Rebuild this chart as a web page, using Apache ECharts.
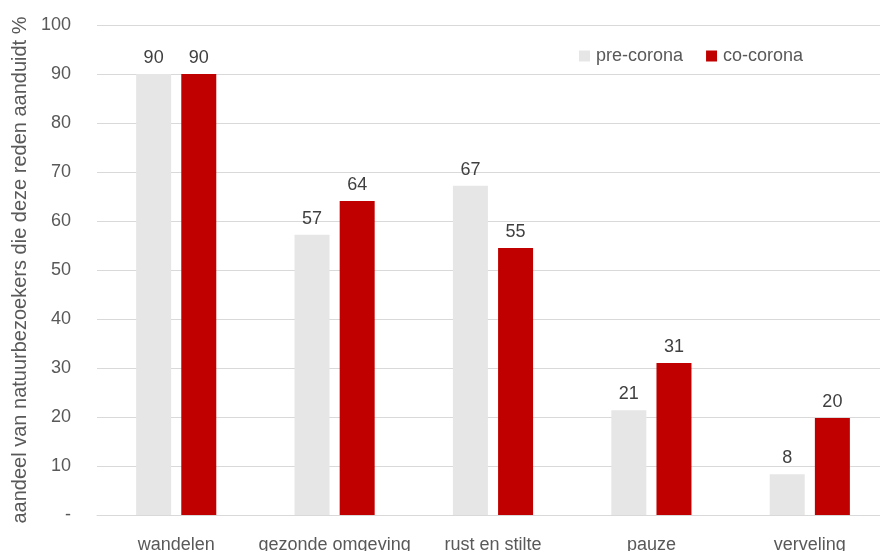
<!DOCTYPE html>
<html><head><meta charset="utf-8">
<script src="https://cdn.jsdelivr.net/npm/echarts@6/dist/echarts.min.js"></script>
<style>html,body{margin:0;padding:0;background:#fff}#c{width:880px;height:551px}</style>
</head><body><div id="c"></div>
<script>
const categories = ['wandelen', 'gezonde omgeving', 'rust en stilte', 'pauze', 'verveling'];
const preCorona = [90, 57.2, 67.2, 21.4, 8.3];
const coCorona = [90, 64.1, 54.5, 31.0, 19.8];
const yTicks = [0, 10, 20, 30, 40, 50, 60, 70, 80, 90, 100];
const seriesNames = ['pre-corona', 'co-corona'];

const FONT = '"Liberation Sans Narrow", "Liberation Sans", Arial, sans-serif';
const chart = echarts.init(document.getElementById('c'));
const labelCfg = {
  show: true, position: 'top', distance: 7, color: '#404040',
  fontFamily: FONT, fontSize: 18,
  formatter: p => Math.round(p.value)
};
chart.setOption({
  animation: false,
  grid: { left: 97, right: -9, top: 25, bottom: 36, containLabel: false, outerBoundsMode: 'none' },
  legend: {
    data: seriesNames, top: 47, left: 579, padding: 0, itemWidth: 11, itemHeight: 11, itemGap: 23,
    icon: 'rect',
    textStyle: { color: '#595959', fontFamily: FONT, fontSize: 18, padding: [0,0,0,1] }
  },
  xAxis: {
    type: 'category', data: categories,
    axisLine: { lineStyle: { color: '#d9d9d9', width: 1 } },
    axisTick: { show: false },
    axisLabel: { color: '#595959', fontFamily: FONT, fontSize: 18, margin: 21, interval: 0 }
  },
  yAxis: {
    type: 'value', min: yTicks[0], max: yTicks[yTicks.length - 1], interval: 10,
    name: 'aandeel van natuurbezoekers die deze reden aanduidt %',
    nameLocation: 'middle', nameGap: 64, nameRotate: 90,
    nameTextStyle: { color: '#595959', fontFamily: FONT, fontSize: 20 },
    axisLine: { show: false }, axisTick: { show: false },
    splitLine: { lineStyle: { color: '#d9d9d9', width: 1 } },
    axisLabel: { color: '#595959', fontFamily: FONT, fontSize: 18, margin: 26,
      formatter: v => v === 0 ? '-' : String(v) }
  },
  series: [
    { name: seriesNames[0], type: 'bar', data: preCorona, barWidth: 35, barGap: '29%',
      itemStyle: { color: '#e6e6e6' }, label: labelCfg },
    { name: seriesNames[1], type: 'bar', data: coCorona, barWidth: 35,
      itemStyle: { color: '#c00000' }, label: labelCfg }
  ]
});
</script></body></html>
